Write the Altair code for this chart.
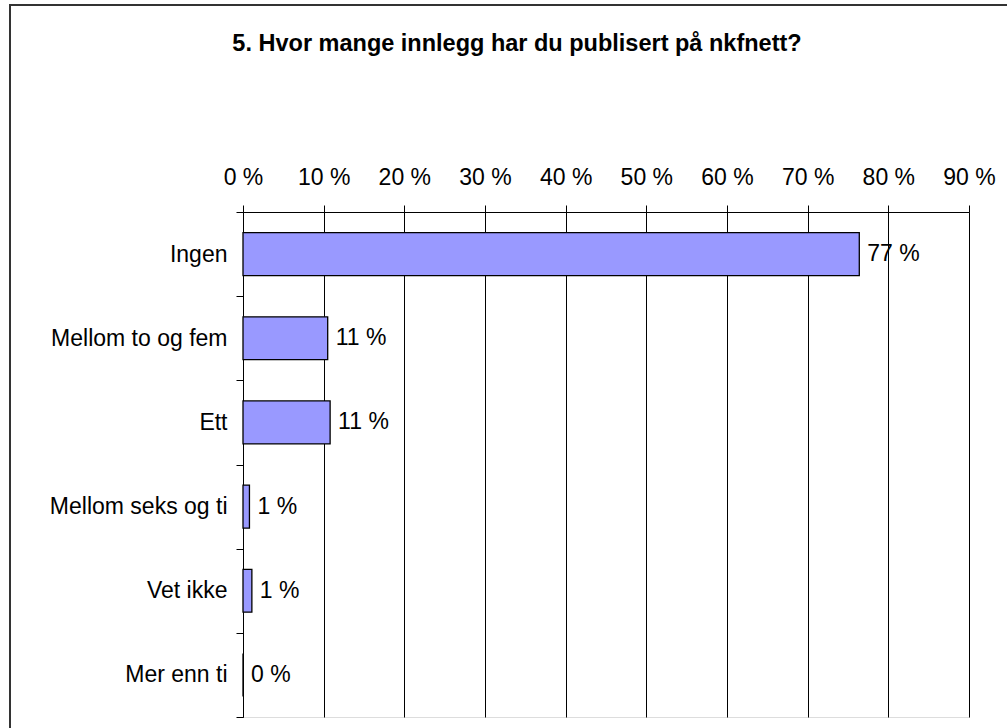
import altair as alt
import pandas as pd

categories = ["Ingen", "Mellom to og fem", "Ett", "Mellom seks og ti", "Vet ikke", "Mer enn ti"]
values = [76.4, 10.5, 10.8, 0.8, 1.1, 0.0]
labels = ["77 %", "11 %", "11 %", "1 %", "1 %", "0 %"]
tick_values = [0, 10, 20, 30, 40, 50, 60, 70, 80, 90]
title_text = "5. Hvor mange innlegg har du publisert på nkfnett?"

df = pd.DataFrame({"cat": categories, "value": values, "label": labels})

FONT = "Liberation Sans"
FS = 23
W, H = 726, 505
LEFT, TOP = 243, 212

y_enc = alt.Y(
    "cat:N",
    sort=categories,
    scale=alt.Scale(paddingInner=0, paddingOuter=0),
    axis=alt.Axis(
        title=None, orient="left", tickBand="extent", grid=False,
        domainColor="black", tickColor="black", tickSize=7,
        labelFontSize=FS, labelPadding=9, labelColor="black", labelFont=FONT,
        domainWidth=1, tickWidth=1,
    ),
)
x_enc = alt.X(
    "value:Q",
    scale=alt.Scale(domain=[0, 90], nice=False),
    axis=alt.Axis(
        title=None, orient="top", values=tick_values, labelExpr="datum.value + ' %'",
        grid=True, gridColor="black", gridOpacity=1, gridWidth=1,
        domainColor="black", tickColor="black", tickSize=7, domainWidth=1, tickWidth=1,
        labelFontSize=FS, labelPadding=16, labelColor="black", labelFont=FONT,
        labelFlush=False, labelOverlap=False,
    ),
)

frame = alt.Chart(pd.DataFrame({"k": [0]})).mark_rect(
    fillOpacity=0, stroke="#333333", strokeWidth=2
).encode(
    x=alt.value(10 - LEFT), x2=alt.value(1100 - LEFT),
    y=alt.value(5 - TOP), y2=alt.value(800 - TOP),
)

title = alt.Chart(pd.DataFrame({"t": [title_text]})).mark_text(
    align="center", baseline="middle", fontSize=23.5, fontWeight="bold",
    font=FONT, color="black",
).encode(x=alt.value(517 - LEFT), y=alt.value(44 - TOP), text="t:N")

bars = alt.Chart(df).mark_bar(
    fill="#9999FF", stroke="black", strokeWidth=1.3,
    height=alt.RelativeBandSize(0.51),
).encode(y=y_enc, x=x_enc)

text = alt.Chart(df).mark_text(
    align="left", baseline="middle", dx=8, fontSize=FS, font=FONT, color="black"
).encode(y=alt.Y("cat:N", sort=categories), x="value:Q", text="label:N")

chart = alt.layer(frame, title, bars, text).properties(
    width=W, height=H,
    autosize=alt.AutoSizeParams(type="none"),
    padding={"left": LEFT, "top": TOP, "right": 1007 - LEFT - W, "bottom": 728 - TOP - H},
    background="white",
).configure_view(stroke=None).configure(font=FONT)

chart.save("out.html", embed_options={"renderer": "svg", "actions": False})
